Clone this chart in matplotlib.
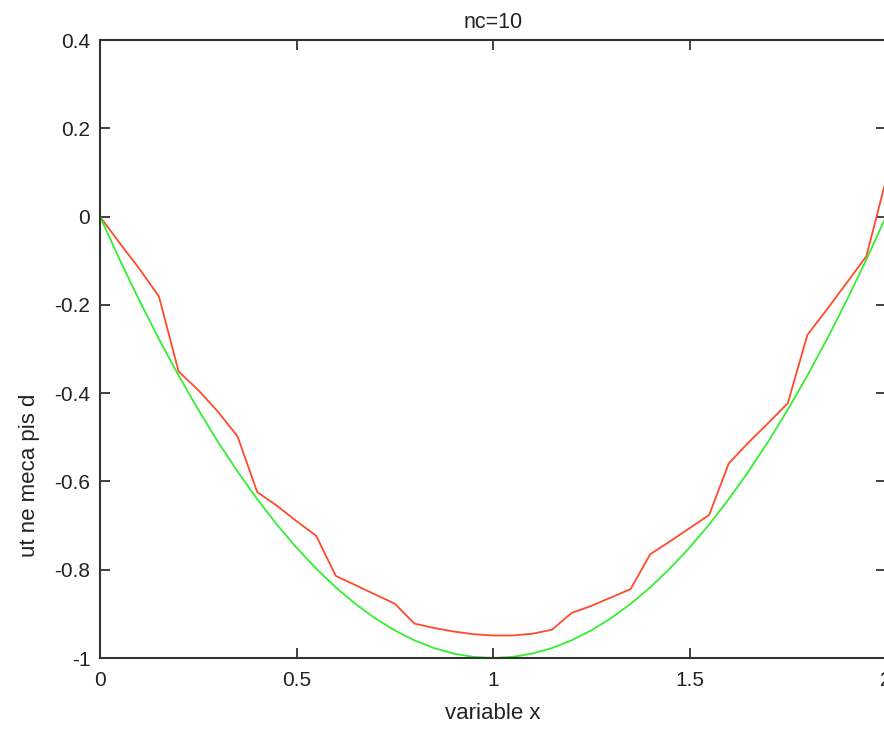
import numpy as np
import matplotlib.pyplot as plt

plt.rcParams['font.family'] = ['Liberation Sans', 'DejaVu Sans']

x = [0.0, 0.05, 0.1, 0.15, 0.2, 0.25, 0.3, 0.35, 0.4, 0.45, 0.5,
     0.55, 0.6, 0.65, 0.7, 0.75, 0.8, 0.85, 0.9, 0.95, 1.0,
     1.05, 1.1, 1.15, 1.2, 1.25, 1.3, 1.35, 1.4, 1.45, 1.5,
     1.55, 1.6, 1.65, 1.7, 1.75, 1.8, 1.85, 1.9, 1.95, 2.0]

exact = [0.0, -0.0975, -0.19, -0.2775, -0.36, -0.4375, -0.51, -0.5775, -0.64, -0.6975, -0.75,
         -0.7975, -0.84, -0.8775, -0.91, -0.9375, -0.96, -0.9775, -0.99, -0.9975, -1.0,
         -0.9975, -0.99, -0.9775, -0.96, -0.9375, -0.91, -0.8775, -0.84, -0.7975, -0.75,
         -0.6975, -0.64, -0.5775, -0.51, -0.4375, -0.36, -0.2775, -0.19, -0.0975, 0.0]

approx = [0.0, -0.06, -0.118, -0.181, -0.351, -0.393, -0.442, -0.498, -0.624, -0.655, -0.69,
          -0.723, -0.814, -0.835, -0.856, -0.877, -0.922, -0.932, -0.94, -0.946, -0.949,
          -0.949, -0.945, -0.936, -0.898, -0.882, -0.863, -0.844, -0.765, -0.736, -0.706,
          -0.676, -0.559, -0.512, -0.468, -0.423, -0.268, -0.21, -0.15, -0.09, 0.083]

fig = plt.figure(figsize=(8.84, 7.30), dpi=100)
ax = fig.add_axes([100 / 884, 72 / 730, 786 / 884, 618 / 730])

ax.plot(x, approx, color='#ff4a2a', lw=1.3)
ax.plot(x, exact, color='#33ee33', lw=1.3)

ax.set_xlim(0, 2)
ax.set_ylim(-1, 0.4)
ax.set_xticks([0, 0.5, 1, 1.5, 2])
ax.set_xticklabels(['0', '0.5', '1', '1.5', '2'])
ax.set_yticks([-1, -0.8, -0.6, -0.4, -0.2, 0, 0.2, 0.4])
ax.set_yticklabels(['-1', '-0.8', '-0.6', '-0.4', '-0.2', '0', '0.2', '0.4'])
ax.tick_params(direction='in', length=7, width=1.3, color='#333333',
               top=True, right=True, labelsize=15, pad=7, labelcolor='#222222')
ax.tick_params(axis='x', pad=9)
for s in ax.spines.values():
    s.set_linewidth(1.5)
    s.set_color('#333333')

ax.set_title('nc=10', fontsize=15.5, pad=9, color='#222222')
ax.set_xlabel('variable x', fontsize=16, labelpad=10, color='#222222')
# the y label sits low in the reference, not centred on the axis
ax.set_ylabel('ut ne meca pis d', fontsize=16, color='#222222', va='center')
ax.yaxis.set_label_coords(-0.09, 0.296)

fig.savefig('out.png', dpi=100)
